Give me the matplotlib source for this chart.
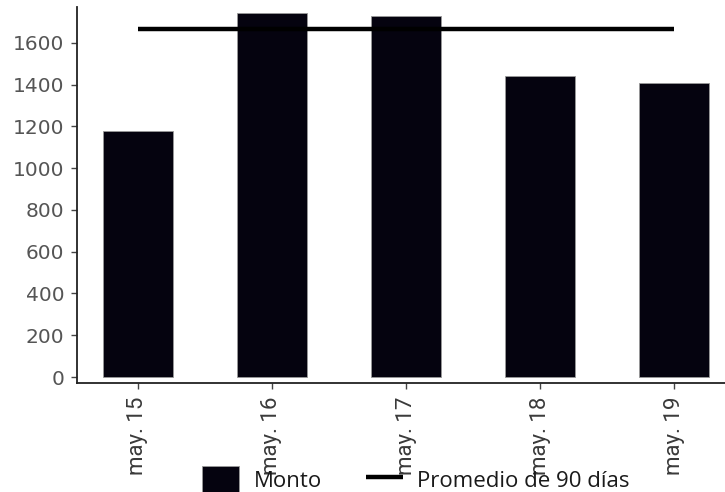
import matplotlib.pyplot as plt

# data
fechas = ["may. 15", "may. 16", "may. 17", "may. 18", "may. 19"]
monto = [1178, 1744, 1729, 1442, 1408]
promedio_90 = [1668, 1668, 1668, 1668, 1668]
yticks = [0, 200, 400, 600, 800, 1000, 1200, 1400, 1600]

fig = plt.figure(figsize=(7.25, 4.92), dpi=100)
ax = fig.add_axes([0.1062, 0.2215, 0.8938, 0.7643])

x = list(range(len(fechas)))
barras = ax.bar(x, monto, width=0.52, color="#05030f", edgecolor="#9a9a9a",
                linewidth=0.6, label="Monto", zorder=2)
linea, = ax.plot(x, promedio_90, color="black", linewidth=3.2, solid_capstyle="butt",
                 label="Promedio de 90 días", zorder=3)

ax.set_xlim(-0.455, 4.38)
ax.set_ylim(-28.7, 1772)
ax.set_yticks(yticks)
ax.set_xticks(x)
ax.set_xticklabels(fechas, rotation=90,
                   family=["Liberation Sans Narrow", "DejaVu Sans Condensed", "Roboto"],
                   fontsize=16, color="#3a3a3a")
for lab in ax.get_yticklabels():
    lab.set_family("DejaVu Sans")
    lab.set_fontsize(14.5)
    lab.set_color("#555555")

for s in ["top", "right"]:
    ax.spines[s].set_visible(False)
for s in ["left", "bottom"]:
    ax.spines[s].set_color("#222222")
    ax.spines[s].set_linewidth(1.3)
ax.tick_params(axis="both", length=4, width=1, color="#444444")
ax.tick_params(axis="y", pad=5)
ax.tick_params(axis="x", pad=6)

fig.legend([barras, linea], ["Monto", "Promedio de 90 días"], loc="center",
           bbox_to_anchor=(0.574, 0.025), ncol=2, frameon=False,
           prop={"family": "Open Sans", "size": 16}, handlelength=1.65,
           handleheight=1.5, columnspacing=2.0, handletextpad=0.65,
           labelcolor="#1a1a1a")

fig.savefig("out.png", dpi=100)
